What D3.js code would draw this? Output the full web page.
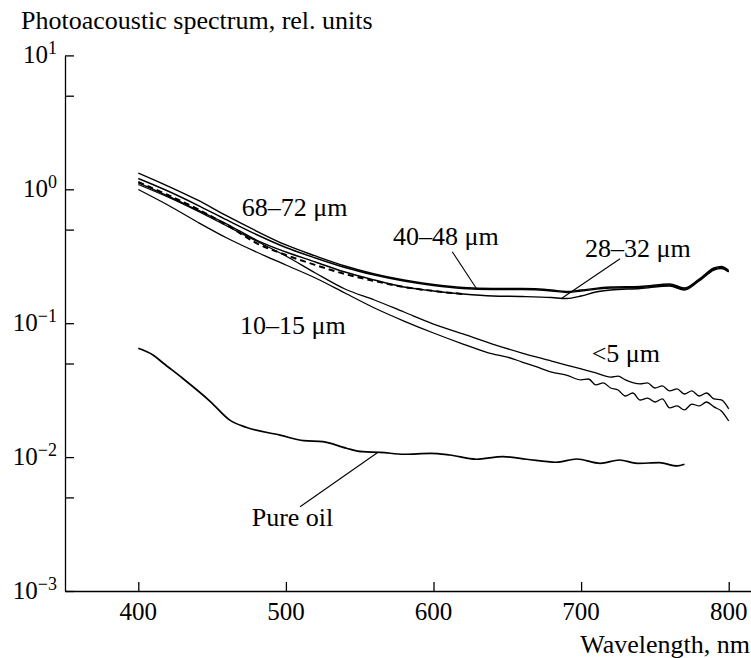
<!DOCTYPE html>
<html><head><meta charset="utf-8">
<script src="https://cdn.jsdelivr.net/npm/d3@7"></script>
<style>
body{margin:0;background:#fff}
svg{display:block}
</style>
</head><body>
<svg id="chart" width="751" height="658"></svg>
<script>
// ---- data (wavelength nm, photoacoustic signal rel. units) ----
const xTickValues = [400, 500, 600, 700, 800];
const yDecades = [-3, -2, -1, 0, 1];
const yMinorTicks = [0.005, 0.05, 0.5, 5];

const s68_72 = [[400,1.323],[420,1.058],[440,0.832],[460,0.632],[480,0.488],[500,0.384],[520,0.318],[540,0.2675],[560,0.233],[580,0.210],[600,0.1945],[620,0.1848],[640,0.1816],[660,0.1816],[680,0.177],[690,0.1725],[700,0.177],[720,0.1864],[740,0.188],[760,0.1962],[770,0.1832],[780,0.2138],[790,0.2584],[795,0.2652],[800,0.2474]];
const s40_48 = [[400,1.204],[420,0.971],[440,0.763],[460,0.590],[480,0.4597],[500,0.3675],[520,0.3068],[540,0.2606],[560,0.229],[580,0.2066],[600,0.1912],[620,0.1816],[640,0.1785],[660,0.1785],[680,0.174],[690,0.1696],[700,0.174],[720,0.1832],[740,0.1848],[760,0.1929],[770,0.18],[780,0.2102],[790,0.254],[795,0.2606],[800,0.2432]];
const s28_32 = [[400,1.115],[420,0.891],[440,0.7005],[460,0.5506],[480,0.418],[500,0.3402],[520,0.2865],[540,0.2411],[560,0.2102],[580,0.1864],[600,0.174],[620,0.1652],[640,0.1596],[660,0.1582],[680,0.1555],[690,0.1529],[700,0.1596],[710,0.171],[720,0.177],[740,0.1816],[760,0.1896],[770,0.177],[780,0.2066],[790,0.2495],[795,0.2562],[800,0.2411]];
const sDashed = [[400,1.134],[420,0.907],[440,0.7128],[460,0.5413],[480,0.397],[500,0.3231],[520,0.2721],[540,0.233],[560,0.2066],[580,0.1864],[600,0.174],[620,0.1652]];
const sLt5 = [[400,1.086],[420,0.876],[440,0.6885],[460,0.532],[480,0.411],[500,0.3176],[520,0.237],[540,0.18],[560,0.149],[580,0.1212],[600,0.0986],[620,0.0831],[640,0.0699],[660,0.0599],[680,0.0522],[690,0.0487],[700,0.0455],[710,0.0425],[720,0.0396],[725,0.0403],[730,0.0377],[740,0.0352],[745,0.0358],[750,0.0328],[755,0.034],[760,0.0312],[765,0.0323],[770,0.0296],[775,0.0312],[780,0.0286],[785,0.0301],[790,0.0272],[795,0.0267],[800,0.0229]];
const s10_15 = [[400,0.9966],[420,0.763],[440,0.57],[460,0.4328],[480,0.3402],[500,0.2721],[520,0.2176],[540,0.1681],[560,0.1299],[580,0.1038],[600,0.0845],[620,0.0699],[640,0.0589],[650,0.0559],[660,0.0513],[670,0.0471],[680,0.0432],[690,0.041],[700,0.0377],[705,0.0383],[710,0.0346],[715,0.0358],[720,0.0328],[725,0.0317],[730,0.0286],[735,0.0301],[740,0.0267],[745,0.0276],[750,0.0258],[755,0.0272],[760,0.0233],[765,0.0241],[770,0.0225],[775,0.0249],[780,0.0241],[785,0.0258],[790,0.0237],[795,0.0221],[800,0.0186]];
const sPureOil = [[400,0.065],[410,0.0579],[417,0.0502],[430,0.0388],[449,0.0259],[462,0.0189],[473,0.0167],[496,0.0146],[512,0.01326],[525,0.01303],[541,0.01164],[552,0.01097],[564,0.01086],[580,0.0105],[598,0.01067],[611,0.01037],[629,0.00964],[647,0.01007],[663,0.00964],[683,0.00915],[697,0.00968],[713,0.00899],[726,0.00951],[738,0.00899],[753,0.00908],[765,0.00859],[770,0.00884]];

const curveLabels = ["68–72 μm","40–48 μm","28–32 μm","10–15 μm","<5 μm","Pure oil"];
const yTitle = "Photoacoustic spectrum, rel. units";
const xTitle = "Wavelength, nm";

// ---- layout ----
const FONT = '"Liberation Serif", "Times New Roman", Tinos, serif';
const svg = d3.select("#chart");
const x = d3.scaleLinear().domain([350.34, 815.1]).range([65, 751]);
const y = d3.scaleLog().domain([1e-3, 10]).range([591, 55.4]);

const series = [
  {d: s68_72, w: 1.4},
  {d: s40_48, w: 1.4},
  {d: s28_32, w: 1.4},
  {d: sDashed, w: 2, dash: "6,4"},
  {d: sLt5, w: 1.3},
  {d: s10_15, w: 1.3},
  {d: sPureOil, w: 1.7}
];

const line = d3.line().x(d => x(d[0])).y(d => y(d[1])).curve(d3.curveMonotoneX);
svg.append("g").selectAll("path").data(series).join("path")
  .attr("d", s => line(s.d))
  .attr("fill", "none").attr("stroke", "#000")
  .attr("stroke-width", s => s.w)
  .attr("stroke-linejoin", "round")
  .attr("stroke-dasharray", s => s.dash || null);

// axes
const yAxis = d3.axisLeft(y)
  .tickValues(yDecades.map(k => Math.pow(10, k)).concat(yMinorTicks))
  .tickSizeInner(-9).tickSizeOuter(0).tickFormat("");
svg.append("g").attr("transform", `translate(${x.range()[0]},0)`).call(yAxis);
const xAxis = d3.axisBottom(x).tickValues(xTickValues)
  .tickSizeInner(-9).tickSizeOuter(0).tickFormat("");
svg.append("g").attr("transform", `translate(0,${y.range()[0]})`).call(xAxis);
svg.selectAll(".domain, .tick line").attr("stroke", "#000").attr("stroke-width", 1.3);

// x tick labels
svg.append("g").selectAll("text").data(xTickValues).join("text")
  .style("font-family", FONT)
  .attr("x", d => x(d)).attr("y", y.range()[0] + 29)
  .attr("text-anchor", "middle").attr("font-size", 25)
  .text(d => d);

// y tick labels with superscripts
const yl = svg.append("g").selectAll("text").data(yDecades).join("text")
  .style("font-family", FONT)
  .attr("x", 57).attr("y", d => y(Math.pow(10, d)) + 8)
  .attr("text-anchor", "end").attr("font-size", 25);
yl.append("tspan").text("10");
yl.append("tspan").attr("font-size", 18).attr("dy", -9)
  .text(d => d < 0 ? "−" + Math.abs(d) : String(d));

// titles
svg.append("text").style("font-family", FONT).attr("x", 21).attr("y", 29).attr("font-size", 26).text(yTitle);
svg.append("text").style("font-family", FONT).attr("x", 750).attr("y", 653).attr("text-anchor", "end").attr("font-size", 26).text(xTitle);

// curve labels
const labelPos = [[241.7,216],[393,245],[585,256.7],[240,334],[591.7,361.7],[251.7,526]];
svg.append("g").selectAll("text").data(curveLabels).join("text")
  .style("font-family", FONT)
  .attr("x", (d,i) => labelPos[i][0]).attr("y", (d,i) => labelPos[i][1])
  .attr("font-size", 26).text(d => d);

// leader lines: [label-end wavelength, label-end value, series, curve wavelength]
function interp(s, w) {
  for (let i = 1; i < s.length; i++) {
    if (s[i][0] >= w) {
      const a = s[i-1], b = s[i], t = (w - a[0]) / (b[0] - a[0]);
      return Math.exp(Math.log(a[1]) + t * (Math.log(b[1]) - Math.log(a[1])));
    }
  }
  return s[s.length-1][1];
}
const leaders = [
  [612.7, 0.342, s40_48, 629.3],
  [726.4, 0.3027, s28_32, 686.9],
  [509.6, 0.00426, sPureOil, 562.4]
];
svg.append("g").selectAll("line").data(leaders).join("line")
  .attr("x1", d => x(d[0])).attr("y1", d => y(d[1]))
  .attr("x2", d => x(d[3])).attr("y2", d => y(interp(d[2], d[3])))
  .attr("stroke", "#000").attr("stroke-width", 1.1);
</script>
</body></html>
